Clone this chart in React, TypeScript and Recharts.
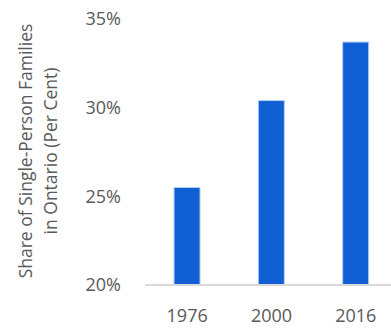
import React from "react";
import { Bar, BarChart, XAxis, YAxis } from "recharts";

const years = ["1976", "2000", "2016"];
const shares = [25.5, 30.4, 33.7];
const yTicks = [20, 25, 30, 35];
const yLabelLines = ["Share of Single-Person Families", "in Ontario (Per Cent)"];

const data = years.map((year, i) => ({ year, share: shares[i] }));

const FONT = "'Open Sans', 'Segoe UI', sans-serif";
const TEXT = "#595959";

const YLabel = ({ viewBox }: any) => {
  const cy = viewBox ? viewBox.y + viewBox.height / 2 - 1 : 150;
  return (
    <g>
      {yLabelLines.map((line, i) => (
        <text
          key={line}
          x={25 + i * 25}
          y={cy}
          transform={`rotate(-90, ${25 + i * 25}, ${cy})`}
          textAnchor="middle"
          dominantBaseline="central"
          fontSize={17.5}
          fontFamily={FONT}
          fill={TEXT}
        >
          {line}
        </text>
      ))}
    </g>
  );
};

export default function App() {
  return (
    <div
      style={{
        position: "absolute",
        top: 0,
        left: 0,
        width: 391,
        height: 328,
        overflow: "hidden",
        background: "#fff",
      }}
    >
      <BarChart
        width={400}
        height={328}
        data={data}
        margin={{ top: 19, right: 2, bottom: 13, left: 0 }}
        style={{ fontFamily: FONT }}
      >
        <XAxis
          dataKey="year"
          tickLine={false}
          axisLine={{ stroke: "#d9d9d9", strokeWidth: 2 }}
          tick={{ fontSize: 18, fill: TEXT }}
          tickMargin={18}
          height={30}
        />
        <YAxis
          width={145}
          domain={[20, 35]}
          ticks={yTicks}
          tickFormatter={(v) => `${v}%`}
          tickLine={false}
          axisLine={false}
          tick={{ fontSize: 18, fill: TEXT }}
          tickMargin={18}
          label={<YLabel />}
        />
        <Bar
          dataKey="share"
          fill="#105fd4"
          stroke="#b5cdf2"
          strokeWidth={1}
          barSize={26}
          isAnimationActive={false}
        />
      </BarChart>
    </div>
  );
}
